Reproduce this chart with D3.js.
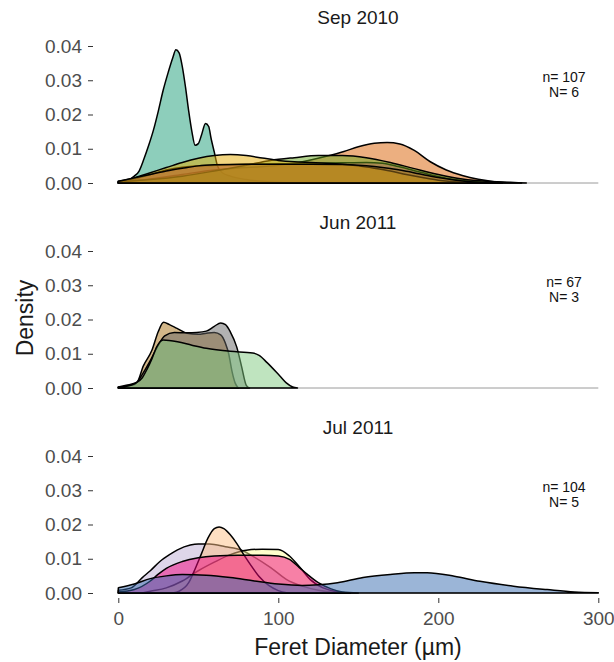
<!DOCTYPE html>
<html><head><meta charset="utf-8">
<script src="https://cdn.jsdelivr.net/npm/d3@7"></script>
<style>body{margin:0;background:#fff} svg{display:block} text{font-family:"Liberation Sans",Arial,sans-serif}</style>
</head><body><svg id="c" width="614" height="662"></svg>
<script>
const panelTitles = ["Sep 2010", "Jun 2011", "Jul 2011"];
const sampleLabels = ["n= 107", "n= 67", "n= 104"];
const siteLabels = ["N= 6", "N= 3", "N= 5"];
const xTicks = [0, 100, 200, 300];
const yTicks = [0, 0.01, 0.02, 0.03, 0.04];

// ---- Sep 2010 (6 sites): [diameter, density]
const sep2010Teal = [[0,0],[5,0.0005],[10,0.002],[13,0.0035],[16,0.007],[19,0.011],[22,0.0155],[25,0.021],[28,0.027],[31,0.032],[34,0.0365],[36,0.0389],[38,0.038],[40,0.034],[42,0.028],[44,0.021],[46,0.015],[48,0.011],[50,0.0115],[52,0.014],[54.5,0.0174],[56.5,0.0165],[58,0.013],[60,0.009],[62,0.005],[65,0.003],[70,0.002],[80,0.001],[95,0.0003],[110,0]];
const sep2010Orange = [[0,0.0003],[20,0.0012],[40,0.0025],[60,0.0038],[80,0.0045],[100,0.0052],[115,0.0062],[130,0.0078],[141,0.0092],[150,0.0106],[160,0.0116],[168,0.0118],[176,0.0114],[185,0.0095],[195,0.0062],[205,0.0038],[215,0.0022],[225,0.0011],[235,0.0004],[245,0.0001],[252,0]];
const sep2010Pink = [[0,0.0003],[10,0.0012],[20,0.0025],[30,0.0038],[40,0.0046],[60,0.0052],[80,0.0055],[100,0.0056],[120,0.0057],[140,0.0059],[155,0.006],[165,0.0058],[175,0.0048],[185,0.0036],[195,0.0024],[205,0.0014],[215,0.0007],[230,0.0002],[240,0]];
const sep2010Green = [[0,0.0003],[20,0.001],[40,0.002],[60,0.0035],[80,0.0052],[95,0.0066],[110,0.0074],[125,0.008],[140,0.008],[155,0.0074],[170,0.006],[185,0.0042],[200,0.0025],[215,0.0012],[230,0.0005],[245,0.0002],[255,0]];
const sep2010Yellow = [[0,0.0005],[10,0.0015],[20,0.003],[30,0.0045],[40,0.006],[50,0.0072],[60,0.008],[70,0.0083],[80,0.008],[90,0.0073],[100,0.0066],[110,0.0062],[120,0.006],[130,0.0058],[140,0.0055],[150,0.005],[160,0.0043],[170,0.0035],[180,0.0025],[190,0.0016],[200,0.0008],[215,0.0002],[225,0]];
const sep2010Brown = [[0,0.0005],[10,0.0015],[20,0.0025],[30,0.0035],[40,0.0043],[50,0.005],[60,0.0053],[80,0.0055],[100,0.0055],[120,0.0055],[140,0.0054],[150,0.0052],[160,0.0048],[170,0.0042],[180,0.0034],[190,0.0025],[200,0.0016],[210,0.0009],[220,0.0004],[230,0.0001],[240,0]];
const sep2010Colors = ["#1b9e77", "#d95f02", "#e7298a", "#66a61e", "#e6ab02", "#a6761d"];

// ---- Jun 2011 (3 sites)
const jun2011Tan = [[0,0.0003],[5,0.0008],[11.7,0.0017],[15.6,0.0064],[21,0.011],[25,0.0165],[28.3,0.0192],[32,0.0185],[36.7,0.0174],[43,0.016],[50,0.0157],[55,0.016],[60,0.0162],[64,0.0155],[67,0.013],[69,0.01],[71,0.005],[73,0.0015],[75,0]];
const jun2011Grey = [[0,0.0002],[10,0.001],[15,0.004],[20,0.008],[25,0.0125],[29,0.0152],[35,0.0162],[43,0.0161],[49,0.0162],[55,0.0166],[60,0.018],[64,0.019],[67,0.0185],[70,0.0164],[74,0.012],[77,0.0064],[80,0.0008],[82,0]];
const jun2011Green = [[0,0.0002],[5,0.0005],[10,0.0012],[15,0.003],[18,0.0055],[21,0.0085],[24,0.012],[28,0.014],[37,0.0135],[46,0.0125],[55,0.0116],[70,0.0107],[84,0.0102],[88,0.0095],[93,0.0074],[101,0.0035],[105,0.0015],[109,0.0003],[112,0]];
const jun2011Colors = ["#a86f14", "#666666", "#7fc97f"];

// ---- Jul 2011 (5 sites)
const jul2011Lavender = [[0,0.0008],[8,0.0015],[15,0.0045],[20,0.0065],[26,0.0092],[32,0.0112],[37,0.0126],[45,0.014],[50,0.0143],[57,0.0143],[67,0.0135],[77,0.0125],[85,0.0105],[95,0.0075],[105,0.004],[115,0.002],[125,0.0008],[135,0.0002],[145,0]];
const jul2011Yellow = [[15,0],[20,0.0005],[30,0.0015],[40,0.0035],[50,0.0065],[60,0.009],[70,0.0112],[80,0.0125],[90,0.0128],[100,0.0127],[107,0.0108],[114,0.0072],[120,0.0039],[128,0.0015],[135,0.0005],[145,0]];
const jul2011Peach = [[34,0],[38,0.0005],[44,0.003],[48,0.007],[52,0.0115],[56,0.016],[60,0.0188],[63,0.0193],[66,0.0188],[70,0.017],[74,0.0145],[78,0.0115],[83,0.008],[88,0.0048],[94,0.0022],[100,0.0007],[106,0]];
const jul2011Pink = [[0,0.0003],[10,0.001],[20,0.0035],[25,0.0055],[30,0.0072],[40,0.0092],[50,0.0103],[60,0.0108],[75,0.011],[90,0.011],[100,0.0108],[107,0.0098],[113,0.0075],[118,0.0055],[125,0.003],[133,0.0012],[140,0.0003],[150,0]];
const jul2011Blue = [[0,0.0015],[10,0.0026],[20,0.0042],[30,0.005],[40,0.0054],[55,0.0052],[70,0.0045],[85,0.0035],[100,0.0026],[115,0.0022],[125,0.0024],[137,0.003],[153,0.0045],[170,0.0054],[185,0.0059],[193,0.0059],[210,0.0049],[226,0.0034],[247,0.002],[268,0.001],[285,0.0003],[300,0.0001]];
const jul2011Colors = ["#beaed4", "#ffff99", "#fdc086", "#f0027f", "#386cb0"];

const panels = [
  {series: [sep2010Teal, sep2010Orange, sep2010Pink, sep2010Green, sep2010Yellow, sep2010Brown], colors: sep2010Colors},
  {series: [jun2011Tan, jun2011Grey, jun2011Green], colors: jun2011Colors},
  {series: [jul2011Lavender, jul2011Yellow, jul2011Peach, jul2011Pink, jul2011Blue], colors: jul2011Colors}
];

const svg = d3.select("#c");
const x = d3.scaleLinear().domain([0, 300]).range([118.3, 598.3]);
const panelStep = 205;

panels.forEach((p, i) => {
  const base = 183 + panelStep * i;
  const y = d3.scaleLinear().domain([0, 0.04]).range([base, base - 137]);
  const g = svg.append("g");

  g.append("text").attr("x", 358).attr("y", 24 + panelStep * i)
    .attr("text-anchor", "middle").attr("font-size", 19).attr("fill", "#1a1a1a")
    .text(panelTitles[i]);

  const yAxis = d3.axisLeft(y).tickValues(yTicks).tickFormat(d3.format(".2f")).tickSize(5).tickPadding(6);
  const ya = g.append("g").attr("transform", "translate(93,0)").call(yAxis);
  ya.select(".domain").remove();
  ya.selectAll(".tick line").attr("stroke", "#333");
  ya.selectAll(".tick text").attr("font-size", 19).attr("fill", "#4d4d4d")
    .attr("font-family", '"Liberation Sans",Arial,sans-serif');

  g.append("line").attr("x1", x(0)).attr("x2", x(300)).attr("y1", y(0)).attr("y2", y(0))
    .attr("stroke", "#9a9a9a").attr("stroke-width", 1);

  const area = d3.area().x(d => x(d[0])).y0(y(0)).y1(d => y(d[1])).curve(d3.curveMonotoneX);
  p.series.forEach((s, k) => {
    g.append("path").datum(s).attr("d", area)
      .attr("fill", p.colors[k]).attr("fill-opacity", 0.5)
      .attr("stroke", "#000").attr("stroke-width", 1.5).attr("stroke-linejoin", "round");
  });

  g.append("text").attr("x", 564).attr("y", 82 + panelStep * i).attr("text-anchor", "middle")
    .attr("font-size", 14).attr("fill", "#111").text(sampleLabels[i]);
  g.append("text").attr("x", 564).attr("y", 97 + panelStep * i).attr("text-anchor", "middle")
    .attr("font-size", 14).attr("fill", "#111").text(siteLabels[i]);
});

const xAxis = d3.axisBottom(x).tickValues(xTicks).tickFormat(d3.format("d")).tickSize(5).tickPadding(9);
const xa = svg.append("g").attr("transform", "translate(0,598)").call(xAxis);
xa.select(".domain").remove();
xa.selectAll(".tick line").attr("stroke", "#333");
xa.selectAll(".tick text").attr("font-size", 19).attr("fill", "#4d4d4d")
  .attr("font-family", '"Liberation Sans",Arial,sans-serif');

svg.append("text").attr("x", 358).attr("y", 655).attr("text-anchor", "middle")
  .attr("font-size", 23).attr("fill", "#1a1a1a").text("Feret Diameter (µm)");
svg.append("text").attr("transform", "translate(33,318) rotate(-90)").attr("text-anchor", "middle")
  .attr("font-size", 23).attr("fill", "#1a1a1a").text("Density");
</script></body></html>
